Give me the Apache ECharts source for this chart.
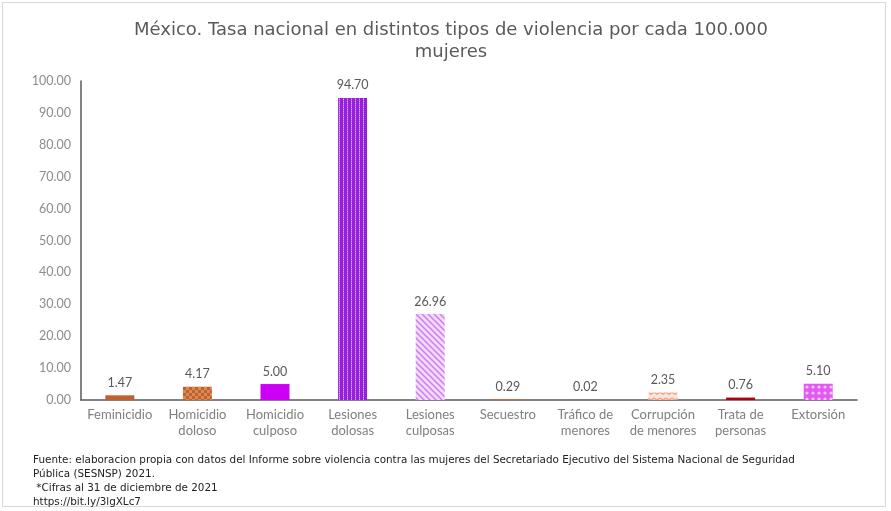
<!DOCTYPE html>
<html><head><meta charset="utf-8">
<script src="https://cdn.jsdelivr.net/npm/echarts@6/dist/echarts.min.js"></script>
<style>
html,body{margin:0;padding:0;background:#fff;}
#frame{position:absolute;left:2px;top:2px;width:884px;height:505px;border:1px solid #d9d9d9;box-sizing:border-box;}
#chart{position:absolute;left:0;top:0;width:891px;height:511px;}
</style></head>
<body>
<div id="frame"></div>
<div id="chart"></div>
<script>
const categories = ["Feminicidio","Homicidio\ndoloso","Homicidio\nculposo","Lesiones\ndolosas","Lesiones\nculposas","Secuestro","Tráfico de\nmenores","Corrupción\nde menores","Trata de\npersonas","Extorsión"];
const values = [1.47, 4.17, 5.00, 94.70, 26.96, 0.29, 0.02, 2.35, 0.76, 5.10];
const yTicks = [0,10,20,30,40,50,60,70,80,90,100];
const titleText = "México. Tasa nacional en distintos tipos de violencia por cada 100.000\nmujeres";
const footText = "Fuente: elaboracion propia con datos del Informe sobre violencia contra las mujeres del Secretariado Ejecutivo del Sistema Nacional de Seguridad\nPública (SESNSP) 2021.\n *Cifras al 31 de diciembre de 2021\nhttps://bit.ly/3lgXLc7";

function pattern(kind, fg, bg){
  const c = document.createElement('canvas');
  const s = kind==='vstripe'?4:6; c.width = s; c.height = s;
  const g = c.getContext('2d');
  g.fillStyle = bg; g.fillRect(0,0,s,s);
  g.fillStyle = fg;
  if(kind==='checker'){ g.fillRect(0,0,3,3); g.fillRect(3,3,3,3); }
  else if(kind==='vstripe'){ g.fillRect(0,0,3,4); g.fillStyle='#d9a0f5'; g.fillRect(3,1,1,1); g.fillRect(3,3,1,1);}
  else if(kind==='diag'){ g.strokeStyle=fg; g.lineWidth=1.5; g.beginPath(); g.moveTo(-1,-1); g.lineTo(7,7); g.moveTo(-1,5); g.lineTo(1,7); g.moveTo(5,-1); g.lineTo(7,1); g.stroke(); }
  else if(kind==='wave'){ g.strokeStyle=fg; g.lineWidth=1.5; g.beginPath(); g.moveTo(0,2); g.lineTo(3,4); g.lineTo(6,2); g.stroke(); }
  else if(kind==='dots'){ g.fillRect(0,0,s,s); g.fillStyle=bg; g.beginPath(); g.arc(3,3,1.6,0,Math.PI*2); g.fill(); }
  return {image:c, repeat:'repeat'};
}
const colors = [
  '#c0622f',
  pattern('checker','#c0622f','#dc8a55'),
  '#cc00f5',
  pattern('vstripe','#9420d8','#b860ee'),
  pattern('diag','#cf7cf0','#f3dcfb'),
  '#d07038',
  '#a3206e',
  pattern('wave','#f0a080','#fde4da'),
  '#b00010',
  pattern('dots','#e25af0','#f6c4fa')
];
const font = 'Lato, "Noto Sans", sans-serif';
const wide = '"DejaVu Sans", sans-serif';
const chart = echarts.init(document.getElementById('chart'));
chart.setOption({
  animation:false,
  title:[{text:titleText, top:14, textAlign:'center', left:446,
    textStyle:{fontFamily:wide, fontWeight:'normal', fontSize:18, color:'#5a5a5a', lineHeight:22}},
    {text:footText, left:28, top:448, textStyle:{fontFamily:wide, fontWeight:'normal', fontSize:10.4, color:'#222', lineHeight:14.2}}],
  grid:{left:81, right:34, top:81, bottom:111},
  xAxis:{type:'category', data:categories,
    axisLine:{lineStyle:{color:'#595959', width:1.5}}, axisTick:{show:false},
    axisLabel:{fontFamily:font, fontSize:13, color:'#7f7f7f', interval:0, margin:7, lineHeight:16}},
  yAxis:{type:'value', min:0, max:100, interval:10,
    axisLine:{show:true, lineStyle:{color:'#595959', width:1.5}}, axisTick:{show:false},
    splitLine:{show:false},
    axisLabel:{fontFamily:font, fontSize:12.5, color:'#8c8c8c', margin:10, formatter:v=>v.toFixed(2)}},
  series:[{type:'bar', barWidth:29,
    data: values.map((v,i)=>({value:v, itemStyle:{color:colors[i]}})),
    label:{show:true, position:'top', distance:6, fontFamily:font, fontSize:12.5, color:'#595959', formatter:p=>p.value.toFixed(2)}}]
});
</script>
</body></html>
